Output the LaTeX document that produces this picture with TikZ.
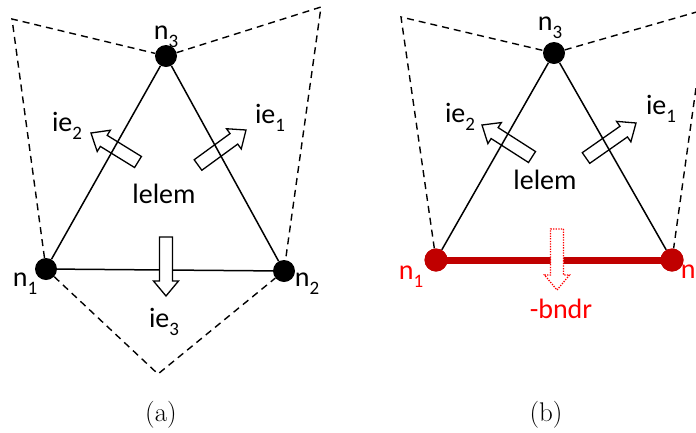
\documentclass[tikz,border=0pt]{standalone}
\usepackage{fontspec}
\newfontfamily\calfont{Carlito}
\usetikzlibrary{calc}
\definecolor{dred}{RGB}{192,0,0}
\definecolor{bred}{RGB}{255,0,0}
\newcommand\sub[1]{\raisebox{-0.28em}{\fontsize{19}{19}\selectfont #1}}
% #1 style, #2 tail coordinate, #3 tip coordinate
\newcommand\barrow[3]{%
  \path ($(#3)!15pt!(#2)$) coordinate (bc);
  \draw[#1] ($(#2)!6.5pt!90:(#3)$) -- ($(bc)!6.5pt!90:(#3)$) -- ($(bc)!12.5pt!90:(#3)$)
    -- (#3) -- ($(bc)!12.5pt!-90:(#3)$) -- ($(bc)!6.5pt!-90:(#3)$) -- ($(#2)!6.5pt!-90:(#3)$) -- cycle;}
\begin{document}
\begin{tikzpicture}[x=1pt,y=-1pt,
  dot/.style={circle,fill=black,inner sep=0pt,minimum size=22pt},
  rdot/.style={circle,fill=dred,inner sep=0pt,minimum size=23pt},
  edge/.style={line width=1.5pt},
  dashline/.style={line width=1.4pt,dash pattern=on 7pt off 5pt},
  lab/.style={font=\calfont\fontsize{28}{28}\selectfont,inner sep=0pt},
  rlab/.style={lab,text=bred},
  capt/.style={font=\fontsize{27}{27}\selectfont,inner sep=0pt},
  warrow/.style={draw=black,fill=white,line width=1.3pt,line join=miter},
  rarrow/.style={draw=bred,fill=white,line width=1.3pt,dash pattern=on 1.3pt off 1.3pt}]
\useasboundingbox (0,0) rectangle (696,432);
\clip (0,0) rectangle (696,432);

% ---------------- panel (a)
\node[dot] (n1a) at (46,269) {};
\node[dot] (n2a) at (284,271) {};
\node[dot] (n3a) at (166,56) {};
\coordinate (ca1) at (12,19);
\coordinate (ca2) at (321,7);
\coordinate (ca3) at (158,374);
\draw[dashline] (n1a) -- (ca1) -- (n3a);
\draw[dashline] (n3a) -- (ca2) -- (n2a);
\draw[dashline] (n1a) -- (ca3) -- (n2a);

\coordinate (t2a) at (138,162); \coordinate (h2a) at (91,133);
\coordinate (t1a) at (198,165); \coordinate (h1a) at (246,130);
\coordinate (t3a) at (166,237); \coordinate (h3a) at (166,296);
\barrow{warrow}{t2a}{h2a}
\barrow{warrow}{t1a}{h1a}
\draw[edge] (n1a) -- (n3a) -- (n2a) -- (n1a);
\barrow{warrow}{t3a}{h3a}

\node[lab] (ln3a) at (166,37) {n\sub{3}};
\node[lab] (ie2a) at (67,126) {ie\sub{2}};
\node[lab] (ie1a) at (270,118) {ie\sub{1}};
\node[lab] (lea) at (164,194) {lelem};
\node[lab] (ln1a) at (25,284) {n\sub{1}};
\node[lab] (ln2a) at (307,284) {n\sub{2}};
\node[lab] (ie3a) at (164,322) {ie\sub{3}};
\node[capt] (capa) at (161,415) {(a)};

% ---------------- panel (b)
\node[rdot] (n1b) at (436,260) {};
\node[rdot] (n2b) at (672,260) {};
\node[dot] (n3b) at (554,53) {};
\coordinate (cb1) at (401,17);
\coordinate (cb2) at (707,9);
\draw[dashline] (n1b) -- (cb1) -- (n3b);
\draw[dashline] (n3b) -- (cb2) -- (n2b);

\coordinate (t2b) at (532,157); \coordinate (h2b) at (482,125);
\coordinate (t1b) at (586,158); \coordinate (h1b) at (636,123);
\coordinate (t3b) at (557,229); \coordinate (h3b) at (557,290);
\barrow{warrow}{t2b}{h2b}
\barrow{warrow}{t1b}{h1b}
\draw[edge] (n1b) -- (n3b) -- (n2b);
\draw[dred,line width=7pt] (n1b.center) -- (n2b.center);
\node[rdot] at (n1b) {};
\node[rdot] at (n2b) {};
\barrow{rarrow}{t3b}{h3b}

\node[lab] (ln3b) at (550,28) {n\sub{3}};
\node[lab] (ie2b) at (460,117) {ie\sub{2}};
\node[lab] (ie1b) at (661,109) {ie\sub{1}};
\node[lab] (leb) at (545,180) {lelem};
\node[rlab] (ln1b) at (411,277) {n\sub{1}};
\node[rlab] (ln2b) at (693,276) {n\sub{2}};
\node[rlab] (bnd) at (561,309) {-bndr};
\node[capt] (capb) at (546,415) {(b)};
\end{tikzpicture}
\end{document}
